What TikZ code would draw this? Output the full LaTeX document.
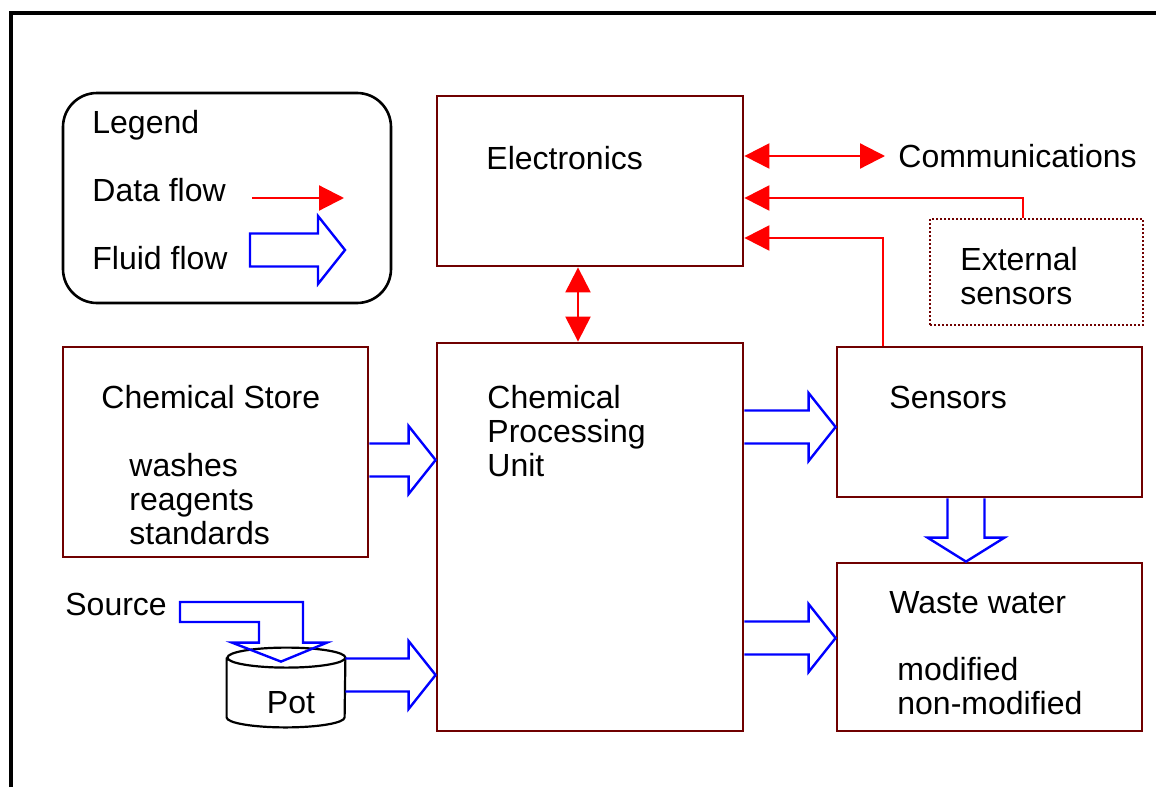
\documentclass[tikz,border=0pt]{standalone}
\usepackage{fontspec}
\setmainfont{Liberation Sans}
\usetikzlibrary{arrows.meta, calc}

\definecolor{boxred}{RGB}{112,0,0}

% fat fluid arrows: start point, end point (optional #1 closes the tail)
\newcommand{\fluidright}[3][]{%
  \draw[fluid] let \p1=#2, \p2=#3 in
    (\x1,\y1+8.25pt) -- (\x2-13.5pt,\y1+8.25pt) -- (\x2-13.5pt,\y1+17pt)
    -- (\x2,\y1) -- (\x2-13.5pt,\y1-17pt) -- (\x2-13.5pt,\y1-8.25pt)
    -- (\x1,\y1-8.25pt) #1;}
\newcommand{\fluiddown}[2]{%
  \draw[fluid] let \p1=#1, \p2=#2 in
    (\x1-9.25pt,\y1) -- (\x1-9.25pt,\y2+12pt) -- (\x1-19.25pt,\y2+12pt)
    -- (\x1,\y2) -- (\x1+19.25pt,\y2+12pt) -- (\x1+9.25pt,\y2+12pt)
    -- (\x1+9.25pt,\y1);}

\begin{document}
\begin{tikzpicture}[
    x=0.5pt, y=-0.5pt,
    font=\fontsize{16}{17}\selectfont,
    >={Triangle[length=12.5pt,width=12.5pt]},
    box/.style={
        rectangle,
        draw=boxred,
        line width=1.4pt,
        inner sep=0pt
    },
    extbox/.style={
        rectangle,
        draw=boxred,
        line width=1pt,
        dash pattern=on 1pt off 1pt,
        inner sep=0pt
    },
    legendbox/.style={
        rectangle,
        rounded corners=17pt,
        draw=black,
        line width=1.3pt
    },
    lbl/.style={
        anchor=west,
        inner sep=0pt,
        align=left
    },
    data/.style={
        draw=red,
        line width=1.1pt
    },
    fluid/.style={
        draw=blue,
        line width=1.2pt,
        line join=miter
    },
    potline/.style={
        draw=black,
        line width=1.1pt
    }
]
\useasboundingbox (0,0) rectangle (1156,787);

% --- Frame -------------------------------------------------------------------
\draw[line width=1.6pt] (11,787) -- (11,13) -- (1156,13);

% --- Boxes -------------------------------------------------------------------
\node[legendbox, minimum width=164pt, minimum height=105pt] (legend) at (227,198) {};
\node[box, minimum width=153pt, minimum height=85pt] (elec) at (590,181) {};
\node[extbox, minimum width=106.5pt, minimum height=53pt] (ext) at (1036.5,272) {};
\node[box, minimum width=153pt, minimum height=194pt] (cpu) at (590,537) {};
\node[box, minimum width=152.5pt, minimum height=105pt] (store) at (215.5,452) {};
\node[box, minimum width=152.5pt, minimum height=75pt] (sensors) at (989.5,422) {};
\node[box, minimum width=152.5pt, minimum height=84pt] (waste) at (989.5,647) {};
\node[inner sep=0pt, minimum width=59pt, minimum height=39.5pt] (pot) at (286,687.5) {};

\draw[potline] ([yshift=-5pt]pot.north west) -- ([yshift=5pt]pot.south west)
    arc[start angle=180, end angle=360, x radius=29.5pt, y radius=5pt]
    -- ([yshift=-5pt]pot.north east)
    arc[start angle=0, end angle=360, x radius=29.5pt, y radius=5pt];

% --- Labels ------------------------------------------------------------------
\node[lbl] (leghead) at (92,125) {Legend};
\node[lbl] (datalbl) at (92,190) {Data flow};
\node[lbl] (fluidlbl) at (92,258) {Fluid flow};
\node[lbl] (eleclbl) at (486,158) {Electronics};
\node[lbl] (comm) at (898,156) {Communications};
\node[lbl] (extlbl) at (960,276.5) {External\\sensors};
\node[lbl] (storelbl) at (101,397) {Chemical Store};
\node[lbl] (storeitems) at (129,499.5) {washes\\reagents\\standards};
\node[lbl] (cpulbl) at (487,431.5) {Chemical\\Processing\\Unit};
\node[lbl] (senslbl) at (889,397) {Sensors};
\node[lbl] (wastelbl) at (889,603) {Waste water};
\node[lbl] (wasteitems) at (897,686) {modified\\non-modified};
\node[lbl] (src) at (65,604) {Source};
\node[inner sep=0pt] (potlbl) at (291,703) {Pot};

% --- Legend samples ----------------------------------------------------------
\coordinate (dl0) at (252,198);
\coordinate (dl1) at (344,198);
\coordinate (fl0) at (250,250);
\coordinate (fl1) at (345,250);
\draw[data, ->] (dl0) -- (dl1);
\fluidright[-- cycle]{(fl0)}{(fl1)}

% --- Data flow ---------------------------------------------------------------
\draw[data, <->] (elec.east |- comm.west) -- ([xshift=-6.5pt]comm.west);
\draw[data, ->] ([xshift=-6.75pt]ext.north) |- ([yshift=-8.5pt]elec.east);
\draw[data, ->] ([xshift=-53.25pt]sensors.north) |- ([yshift=-28.5pt]elec.east);
\draw[data, <->] ([xshift=-6pt]elec.south) -- ([xshift=-6pt]cpu.north);

% --- Fluid flow --------------------------------------------------------------
\coordinate (srcin) at (180,612);
\draw[fluid] let \p1=(srcin), \p2=(pot.north) in
    (\x1,\y1+5pt) -- (\x2+8.5pt,\y1+5pt) -- (\x2+8.5pt,\y2+2.5pt)
    -- (\x2+20.5pt,\y2+2.5pt) -- (\x2-2.5pt,\y2-7pt) -- (\x2-27pt,\y2+2.5pt)
    -- (\x2-13.5pt,\y2+2.5pt) -- (\x2-13.5pt,\y1-5pt) -- (\x1,\y1-5pt) -- cycle;
\fluidright{([yshift=-4pt]store.east)}{(cpu.west)}
\fluidright{([yshift=6.25pt]pot.east)}{(cpu.west)}
\fluidright{([yshift=55pt]cpu.east)}{(sensors.west)}
\fluidright{([yshift=-50.5pt]cpu.east)}{(waste.west)}
\fluiddown{([xshift=-11.75pt]sensors.south)}{(waste.north)}

\end{tikzpicture}
\end{document}
